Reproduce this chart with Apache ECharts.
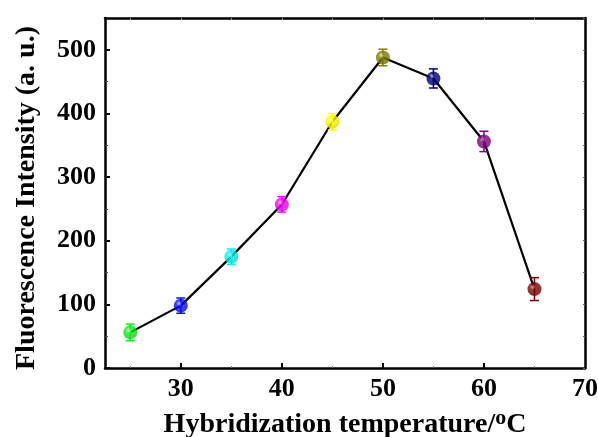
<!DOCTYPE html>
<html><head><meta charset="utf-8">
<script src="https://cdn.jsdelivr.net/npm/echarts@6/dist/echarts.min.js"></script>
<style>html,body{margin:0;padding:0;background:#fff}#c{width:598px;height:437px}</style>
</head><body><div id="c"></div>
<script>
const temps = [25, 30, 35, 40, 45, 50, 55, 60, 65];
const intensity = [56, 98, 175, 257, 387, 488, 455, 356, 124];
const errors = [13, 12, 12, 12, 13, 13, 15, 16, 18];
const xTickLabels = [30, 40, 50, 60, 70];
const xMajorTicks = [30, 40, 50, 60];
const xMinorTicks = [25, 35, 45, 55, 65];
const yTickLabels = [0, 100, 200, 300, 400, 500];
const pointColors = ['#10f010', '#0a0aff', '#00f4f4', '#ff00ff', '#ffff00', '#808000', '#000080', '#800080', '#800000'];

function lighten(hex, f) {
  const n = parseInt(hex.slice(1), 16);
  let r = (n >> 16) & 255, g = (n >> 8) & 255, b = n & 255;
  r = Math.round(r + (255 - r) * f); g = Math.round(g + (255 - g) * f); b = Math.round(b + (255 - b) * f);
  return 'rgb(' + r + ',' + g + ',' + b + ')';
}
function darken(hex, f) {
  const n = parseInt(hex.slice(1), 16);
  let r = (n >> 16) & 255, g = (n >> 8) & 255, b = n & 255;
  return 'rgb(' + Math.round(r * f) + ',' + Math.round(g * f) + ',' + Math.round(b * f) + ')';
}

const lineData = temps.map((t, i) => [t, intensity[i]]);
const errData = temps.map((t, i) => [t, intensity[i], errors[i]]);
const ptData = temps.map((t, i) => ({
  value: [t, intensity[i]],
  itemStyle: {
    color: {
      type: 'radial', x: 0.38, y: 0.35, r: 0.7,
      colorStops: [
        { offset: 0, color: lighten(pointColors[i], 0.7) },
        { offset: 0.3, color: pointColors[i] },
        { offset: 1, color: darken(pointColors[i], 0.85) }
      ]
    }
  }
}));

const font = 'Liberation Serif';
const chart = echarts.init(document.getElementById('c'));
chart.setOption({
  backgroundColor: '#fff',
  animation: false,
  grid: { left: 105, right: 13, top: 18, bottom: 69, containLabel: false, outerBoundsMode: 'none' },
  xAxis: [{
    type: 'value', min: 22.5, max: 70,
    name: 'Hybridization temperature/{sup|o}C',
    nameLocation: 'middle', nameGap: 37,
    nameTextStyle: {
      fontFamily: font, fontWeight: 'bold', fontSize: 28, color: '#000',
      rich: { sup: { fontFamily: font, fontWeight: 'bold', fontSize: 22, color: '#000', verticalAlign: 'top', padding: [0, 0, 14, 0] } }
    },
    axisLine: { show: true, onZero: false, lineStyle: { color: '#000', width: 2.5 } },
    axisTick: { show: true, inside: true, length: 5, customValues: xMajorTicks, lineStyle: { color: '#000', width: 2 } },
    splitLine: { show: false },
    axisLabel: {
      margin: 8, fontFamily: font, fontWeight: 'bold', fontSize: 26, color: '#000',
      customValues: xTickLabels
    }
  }, {
    type: 'value', position: 'bottom', min: 22.5, max: 70,
    axisLine: { show: false, onZero: false },
    axisTick: { show: true, inside: true, length: 2, customValues: xMinorTicks, lineStyle: { color: '#777', width: 1 } },
    axisLabel: { show: false }, splitLine: { show: false }
  }, {
    type: 'value', position: 'top', min: 22.5, max: 70,
    axisLine: { show: true, onZero: false, lineStyle: { color: '#000', width: 2.5 } },
    axisTick: { show: true, inside: true, length: 2, customValues: xMinorTicks.concat(xMajorTicks), lineStyle: { color: '#888', width: 1 } },
    axisLabel: { show: false }, splitLine: { show: false }
  }],
  yAxis: [{
    type: 'value', min: 0, max: 550, interval: 100,
    name: 'Fluorescence Intensity (a. u.)',
    nameLocation: 'middle', nameGap: 64,
    nameTextStyle: { fontFamily: font, fontWeight: 'bold', fontSize: 28, color: '#000', padding: [0, 10, 0, 0] },
    axisLine: { show: true, onZero: false, lineStyle: { color: '#000', width: 2.5 } },
    axisTick: { show: true, inside: true, length: 5, customValues: yTickLabels, lineStyle: { color: '#000', width: 2 } },
    minorTick: { show: true, splitNumber: 2, length: 3, lineStyle: { color: '#444', width: 1 } },
    splitLine: { show: false },
    axisLabel: {
      margin: 9, fontFamily: font, fontWeight: 'bold', fontSize: 26, color: '#000',
      customValues: yTickLabels
    }
  }, {
    type: 'value', position: 'right', min: 0, max: 550, interval: 50,
    axisLine: { show: true, onZero: false, lineStyle: { color: '#000', width: 2.5 } },
    axisTick: { show: true, inside: true, length: 2, lineStyle: { color: '#666', width: 1 } },
    axisLabel: { show: false }, splitLine: { show: false }
  }],
  series: [{
    type: 'line', data: lineData, symbol: 'none', z: 1,
    lineStyle: { color: '#000', width: 2.2 }
  }, {
    type: 'custom', data: errData, z: 2,
    renderItem: function (params, api) {
      const x = api.value(0), y = api.value(1), e = api.value(2);
      const top = api.coord([x, y + e]), bot = api.coord([x, y - e]);
      const c = pointColors[params.dataIndex];
      const hw = 4.5;
      const st = { stroke: c, lineWidth: 1.5 };
      return {
        type: 'group', children: [
          { type: 'line', shape: { x1: top[0], y1: top[1], x2: bot[0], y2: bot[1] }, style: st },
          { type: 'line', shape: { x1: top[0] - hw, y1: top[1], x2: top[0] + hw, y2: top[1] }, style: st },
          { type: 'line', shape: { x1: bot[0] - hw, y1: bot[1], x2: bot[0] + hw, y2: bot[1] }, style: st }
        ]
      };
    }
  }, {
    type: 'scatter', data: ptData, symbol: 'circle', symbolSize: 14, z: 3
  }]
});
</script></body></html>
